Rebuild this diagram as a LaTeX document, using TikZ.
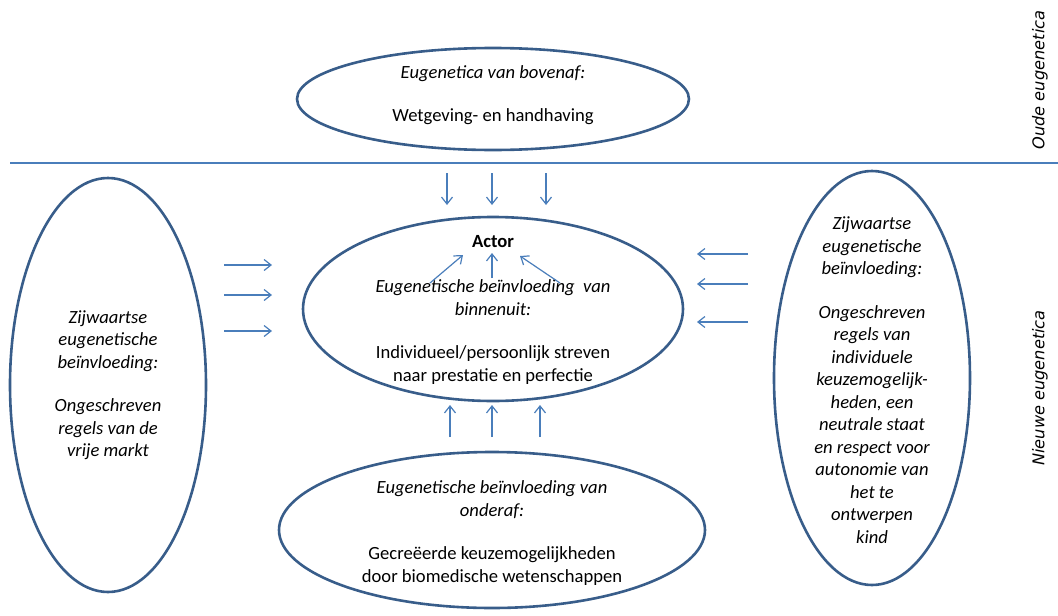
\documentclass[tikz,border=0pt]{standalone}
\usepackage{fontspec}
\setmainfont{Carlito}
\newfontfamily\zijfont{DejaVu Sans}
\usetikzlibrary{shapes.geometric, arrows.meta}

\tikzset{
  ovaal/.style={ellipse, draw={rgb, 255:red, 56; green, 93; blue, 138}, line width=2.6pt, fill=white, inner sep=0pt},
  pijl/.style={draw={rgb, 255:red, 74; green, 126; blue, 187}, line width=1.2pt, -{Straight Barb[length=7pt,width=11pt]}},
  tekst/.style={align=center, inner sep=0.75pt, font=\fontsize{18.6}{22.5}\selectfont},
  zijlabel/.style={inner sep=0.75pt, rotate=90, font=\zijfont\fontsize{16.2}{18}\selectfont\itshape},
}

\begin{document}
\begin{tikzpicture}[x=1pt, y=-1pt]
\useasboundingbox (0,0) rectangle (1058,616);

\node [ovaal, minimum width=392, minimum height=102] (boven)  at (493,99)  {};
\node [ovaal, minimum width=380, minimum height=184] (midden) at (493,309) {};
\node [ovaal, minimum width=426, minimum height=156] (onder)  at (492,530) {};
\node [ovaal, minimum width=196, minimum height=414] (links)  at (108,385) {};
\node [ovaal, minimum width=196, minimum height=414] (rechts) at (872,378) {};

\coordinate (lijnL) at (10,163);
\coordinate (lijnR) at (1058,163);
\draw [draw={rgb, 255:red, 74; green, 126; blue, 187}, line width=1.2pt] (lijnL) -- (lijnR);

\node [tekst] (bovenTxt) at (493,95) {\textit{Eugenetica van bovenaf:}\\[21pt] Wetgeving- en handhaving};
\node [tekst, font=\fontsize{18.6}{22.5}\selectfont\bfseries] (actor) at (493,242) {Actor};
\node [tekst] (binnenTxt) at (493,332) {\textit{Eugenetische beïnvloeding\ \ van}\\ \textit{binnenuit:}\\[21pt] Individueel/persoonlijk streven\\ naar prestatie en perfectie};
\node [tekst] (onderTxt) at (492,533) {\textit{Eugenetische beïnvloeding van}\\ \textit{onderaf:}\\[21pt] Gecreëerde keuzemogelijkheden\\ door biomedische wetenschappen};
\node [tekst, font=\fontsize{18.6}{22.5}\selectfont\itshape] (linksTxt) at (108,385) {Zijwaartse\\ eugenetische\\ beïnvloeding:\\[21pt] Ongeschreven\\ regels van de\\ vrije markt};
\node [tekst, font=\fontsize{18.6}{22.5}\selectfont\itshape] (rechtsTxt) at (872,380) {Zijwaartse\\ eugenetische\\ beïnvloeding:\\[21pt] Ongeschreven\\ regels van\\ individuele\\ keuzemogelijk-\\ heden, een\\ neutrale staat\\ en respect voor\\ autonomie van\\ het te\\ ontwerpen\\ kind};

\node [zijlabel] (oud) at (1040,80) {Oude eugenetica};
\node [zijlabel] (nieuw) at (1040,388) {Nieuwe eugenetica};

% pijlen van boven
\coordinate (b1) at (447,173); \coordinate (b1e) at (447,205);
\coordinate (b2) at (492,173); \coordinate (b2e) at (492,205);
\coordinate (b3) at (546,173); \coordinate (b3e) at (546,205);
\draw [pijl] (b1) -- (b1e);
\draw [pijl] (b2) -- (b2e);
\draw [pijl] (b3) -- (b3e);

% pijlen van onder
\coordinate (o1) at (450,437); \coordinate (o1e) at (450,405);
\coordinate (o2) at (492,437); \coordinate (o2e) at (492,405);
\coordinate (o3) at (540,437); \coordinate (o3e) at (540,405);
\draw [pijl] (o1) -- (o1e);
\draw [pijl] (o2) -- (o2e);
\draw [pijl] (o3) -- (o3e);

% pijlen van links
\coordinate (l1) at (224,265); \coordinate (l1e) at (272,265);
\coordinate (l2) at (224,295); \coordinate (l2e) at (272,295);
\coordinate (l3) at (224,331); \coordinate (l3e) at (272,331);
\draw [pijl] (l1) -- (l1e);
\draw [pijl] (l2) -- (l2e);
\draw [pijl] (l3) -- (l3e);

% pijlen van rechts
\coordinate (r1) at (748,254); \coordinate (r1e) at (697,254);
\coordinate (r2) at (748,284); \coordinate (r2e) at (697,284);
\coordinate (r3) at (748,322); \coordinate (r3e) at (697,322);
\draw [pijl] (r1) -- (r1e);
\draw [pijl] (r2) -- (r2e);
\draw [pijl] (r3) -- (r3e);

% pijlen naar de actor
\coordinate (a1) at (430,283); \coordinate (a1e) at (463,255);
\coordinate (a2) at (492,278); \coordinate (a2e) at (492,253);
\coordinate (a3) at (560,283); \coordinate (a3e) at (520,256);
\draw [pijl] (a1) -- (a1e);
\draw [pijl] (a2) -- (a2e);
\draw [pijl] (a3) -- (a3e);

\end{tikzpicture}
\end{document}
